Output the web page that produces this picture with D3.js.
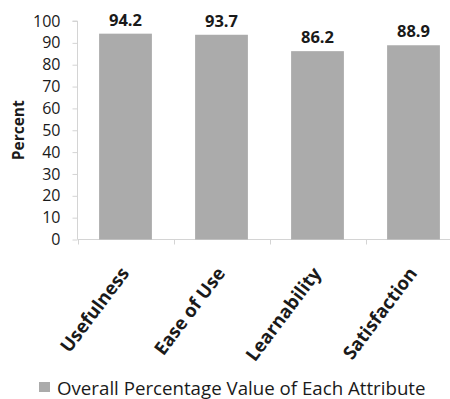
<!DOCTYPE html>
<html>
<head>
<meta charset="utf-8">
<script src="https://cdn.jsdelivr.net/npm/d3@7"></script>
<style>
  html, body { margin: 0; padding: 0; background: #fff; }
  svg { display: block; }
</style>
</head>
<body>
<svg id="chart" width="450" height="399"></svg>
<script>
// Survey attributes and their overall percentage values
const categories = ["Usefulness", "Ease of Use", "Learnability", "Satisfaction"];
const values = [94.2, 93.7, 86.2, 88.9];
const yTicks = [0, 10, 20, 30, 40, 50, 60, 70, 80, 90, 100];
const seriesName = "Overall Percentage Value of Each Attribute";

const font = "'Open Sans', 'Noto Sans', sans-serif";
const barColor = "#ababab";
const axisColor = "#d4d4d4";
const textColor = "#1a1a1a";

const svg = d3.select("#chart");

const x = d3.scaleBand()
  .domain(categories)
  .range([77.5, 461.5])
  .paddingInner(0.45)
  .paddingOuter(0.225);

const y = d3.scaleLinear()
  .domain([0, 100])
  .range([239.5, 21]);

// Y axis
const yAxis = svg.append("g")
  .attr("transform", "translate(77.5,0)")
  .call(d3.axisLeft(y).tickValues(yTicks).tickSize(5).tickPadding(12));
yAxis.select(".domain").attr("stroke", axisColor).attr("d", `M-5,${y(100)}H0V${y(0)}`);
yAxis.selectAll(".tick line").attr("stroke", axisColor);
yAxis.selectAll(".tick text")
  .attr("font-family", font)
  .attr("font-size", 16)
  .attr("fill", textColor);

// X axis with ticks at band boundaries
const step = x.step();
const boundaries = d3.range(categories.length + 1).map(i => x.range()[0] + i * step);
svg.append("line")
  .attr("x1", 77.5).attr("x2", 450)
  .attr("y1", y(0)).attr("y2", y(0))
  .attr("stroke", axisColor);
svg.selectAll(".xtick")
  .data(boundaries)
  .join("line")
  .attr("class", "xtick")
  .attr("x1", d => Math.round(d) + 0.5).attr("x2", d => Math.round(d) + 0.5)
  .attr("y1", y(0)).attr("y2", y(0) + 5)
  .attr("stroke", axisColor);

// Bars
svg.selectAll(".bar")
  .data(values)
  .join("rect")
  .attr("class", "bar")
  .attr("x", (d, i) => x(categories[i]))
  .attr("width", x.bandwidth())
  .attr("y", d => y(d))
  .attr("height", d => y(0) - y(d))
  .attr("fill", barColor);

// Value labels
svg.selectAll(".value")
  .data(values)
  .join("text")
  .attr("class", "value")
  .attr("x", (d, i) => x(categories[i]) + x.bandwidth() / 2)
  .attr("y", d => y(d) - 8)
  .attr("text-anchor", "middle")
  .attr("font-family", font)
  .attr("font-size", 16.5)
  .attr("font-weight", "bold")
  .attr("fill", textColor)
  .text(d => d.toFixed(1));

// Category labels, rotated
svg.selectAll(".cat")
  .data(categories)
  .join("text")
  .attr("class", "cat")
  .attr("transform", d => `translate(${x(d) + x.bandwidth() / 2 + 4.5},${y(0) + 34}) rotate(-53)`)
  .attr("text-anchor", "end")
  .attr("font-family", font)
  .attr("font-size", 18.5)
  .attr("font-weight", "bold")
  .attr("fill", textColor)
  .text(d => d);

// Y axis title
svg.append("text")
  .attr("transform", `translate(24,${(y(0) + y(100)) / 2}) rotate(-90)`)
  .attr("text-anchor", "middle")
  .attr("font-family", font)
  .attr("font-size", 15.5)
  .attr("font-weight", "bold")
  .attr("fill", textColor)
  .text("Percent");

// Legend
const legend = svg.append("g").attr("transform", "translate(39,382)");
legend.append("rect")
  .attr("width", 11).attr("height", 10)
  .attr("fill", barColor);
legend.append("text")
  .attr("x", 18).attr("y", 13)
  .attr("font-family", font)
  .attr("font-size", 18.7)
  .attr("fill", textColor)
  .text(seriesName);
</script>
</body>
</html>
